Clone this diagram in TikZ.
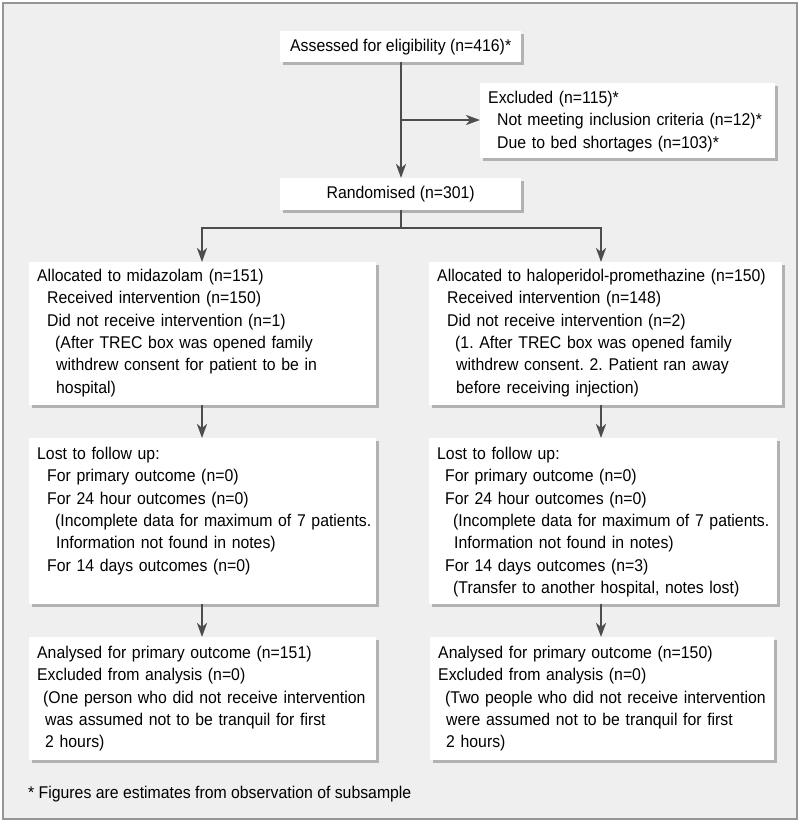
\documentclass[tikz,border=0pt]{standalone}
\usepackage{fontspec}
\setmainfont{Liberation Sans}[FakeStretch=0.93]
\usetikzlibrary{arrows.meta,shadows,calc}
\definecolor{bggray}{RGB}{239,239,239}
\definecolor{framegray}{RGB}{150,150,150}
\definecolor{linegray}{RGB}{77,77,77}
\newcommand\tline[2]{\hspace*{#1}\mbox{#2}}
\frenchspacing
\begin{document}
\begin{tikzpicture}[x=1pt,y=1pt,
  font=\fontsize{17}{22.4}\selectfont\frenchspacing,
  shade/.style={drop shadow={shadow xshift=3pt,shadow yshift=-3pt,fill=black!30,opacity=1}},
  card/.style={fill=white, shade, inner ysep=0pt, inner xsep=8pt, anchor=north west, align=left},
  cbox/.style={fill=white, shade, inner sep=0pt, minimum width=241pt, anchor=north west},
  conn/.style={draw=linegray, line width=2.5pt},
  arr/.style={conn, -{Stealth[length=14pt,width=10pt,inset=4pt]}}]
\useasboundingbox (0,0) rectangle (800,-822);
\fill[white] (0,0) rectangle (800,-822);
\fill[bggray, draw=framegray, line width=2pt] (3,-3) rectangle (797,-819);

\node[cbox, minimum height=31pt] (assess) at (280,-31) {Assessed for eligibility (n=416)*};
\node[card, text width=279pt, text height=20pt, text depth=55pt] (excl) at (480,-83)
 {\tline{0pt}{Excluded (n=115)*}\\
  \tline{9pt}{Not meeting inclusion criteria (n=12)*}\\
  \tline{9pt}{Due to bed shortages (n=103)*}};
\node[cbox, minimum height=32pt] (rand) at (280,-178) {Randomised (n=301)};

\node[card, text width=331pt, text height=19pt, text depth=124pt] (b2l) at (29,-262)
 {\tline{0pt}{Allocated to midazolam (n=151)}\\
  \tline{10pt}{Received intervention (n=150)}\\
  \tline{10pt}{Did not receive intervention (n=1)}\\
  \tline{18pt}{(After TREC box was opened family}\\
  \tline{19pt}{withdrew consent for patient to be in}\\
  \tline{19pt}{hospital)}};
\node[card, text width=337pt, text height=19pt, text depth=124pt] (b2r) at (429,-262)
 {\tline{0pt}{Allocated to haloperidol-promethazine (n=150)}\\
  \tline{10pt}{Received intervention (n=148)}\\
  \tline{10pt}{Did not receive intervention (n=2)}\\
  \tline{18pt}{(1. After TREC box was opened family}\\
  \tline{19pt}{withdrew consent. 2. Patient ran away}\\
  \tline{19pt}{before receiving injection)}};

\node[card, text width=331pt, text height=21pt, text depth=145pt] (b3l) at (29,-438)
 {\tline{0pt}{Lost to follow up:}\\
  \tline{10pt}{For primary outcome (n=0)}\\
  \tline{10pt}{For 24 hour outcomes (n=0)}\\
  \tline{18pt}{(Incomplete data for maximum of 7 patients.}\\
  \tline{19pt}{Information not found in notes)}\\
  \tline{10pt}{For 14 days outcomes (n=0)}};
\node[card, text width=332pt, text height=21pt, text depth=145pt] (b3r) at (429,-438)
 {\tline{0pt}{Lost to follow up:}\\
  \tline{8pt}{For primary outcome (n=0)}\\
  \tline{8pt}{For 24 hour outcomes (n=0)}\\
  \tline{16pt}{(Incomplete data for maximum of 7 patients.}\\
  \tline{17pt}{Information not found in notes)}\\
  \tline{8pt}{For 14 days outcomes (n=3)}\\
  \tline{16pt}{(Transfer to another hospital, notes lost)}};

\node[card, text width=331pt, text height=21pt, text depth=102pt] (b4l) at (29,-637)
 {\tline{0pt}{Analysed for primary outcome (n=151)}\\
  \tline{0pt}{Excluded from analysis (n=0)}\\
  \tline{6pt}{(One person who did not receive intervention}\\
  \tline{8pt}{was assumed not to be tranquil for first}\\
  \tline{8pt}{2 hours)}};
\node[card, text width=328pt, text height=21pt, text depth=102pt] (b4r) at (430,-637)
 {\tline{0pt}{Analysed for primary outcome (n=150)}\\
  \tline{0pt}{Excluded from analysis (n=0)}\\
  \tline{7pt}{(Two people who did not receive intervention}\\
  \tline{8pt}{were assumed not to be tranquil for first}\\
  \tline{8pt}{2 hours)}};

\node[anchor=base west, inner sep=0pt] (foot) at (28,-798) {* Figures are estimates from observation of subsample};

\coordinate (colL) at (202,0);
\coordinate (colR) at (601,0);
\coordinate (tee) at (401,-120);
\coordinate (split) at (401,-228);

\draw[arr] (assess.south -| tee) -- (rand.north -| tee);
\draw[arr] (tee) -- (excl.west |- tee);
\draw[conn] (rand.south -| split) -- (split);
\draw[arr] (split) -| (b2l.north -| colL);
\draw[arr] (split) -| (b2r.north -| colR);
\draw[arr] (b2l.south -| colL) -- (b3l.north -| colL);
\draw[arr] (b2r.south -| colR) -- (b3r.north -| colR);
\draw[arr] (b3l.south -| colL) -- (b4l.north -| colL);
\draw[arr] (b3r.south -| colR) -- (b4r.north -| colR);
\end{tikzpicture}
\end{document}
